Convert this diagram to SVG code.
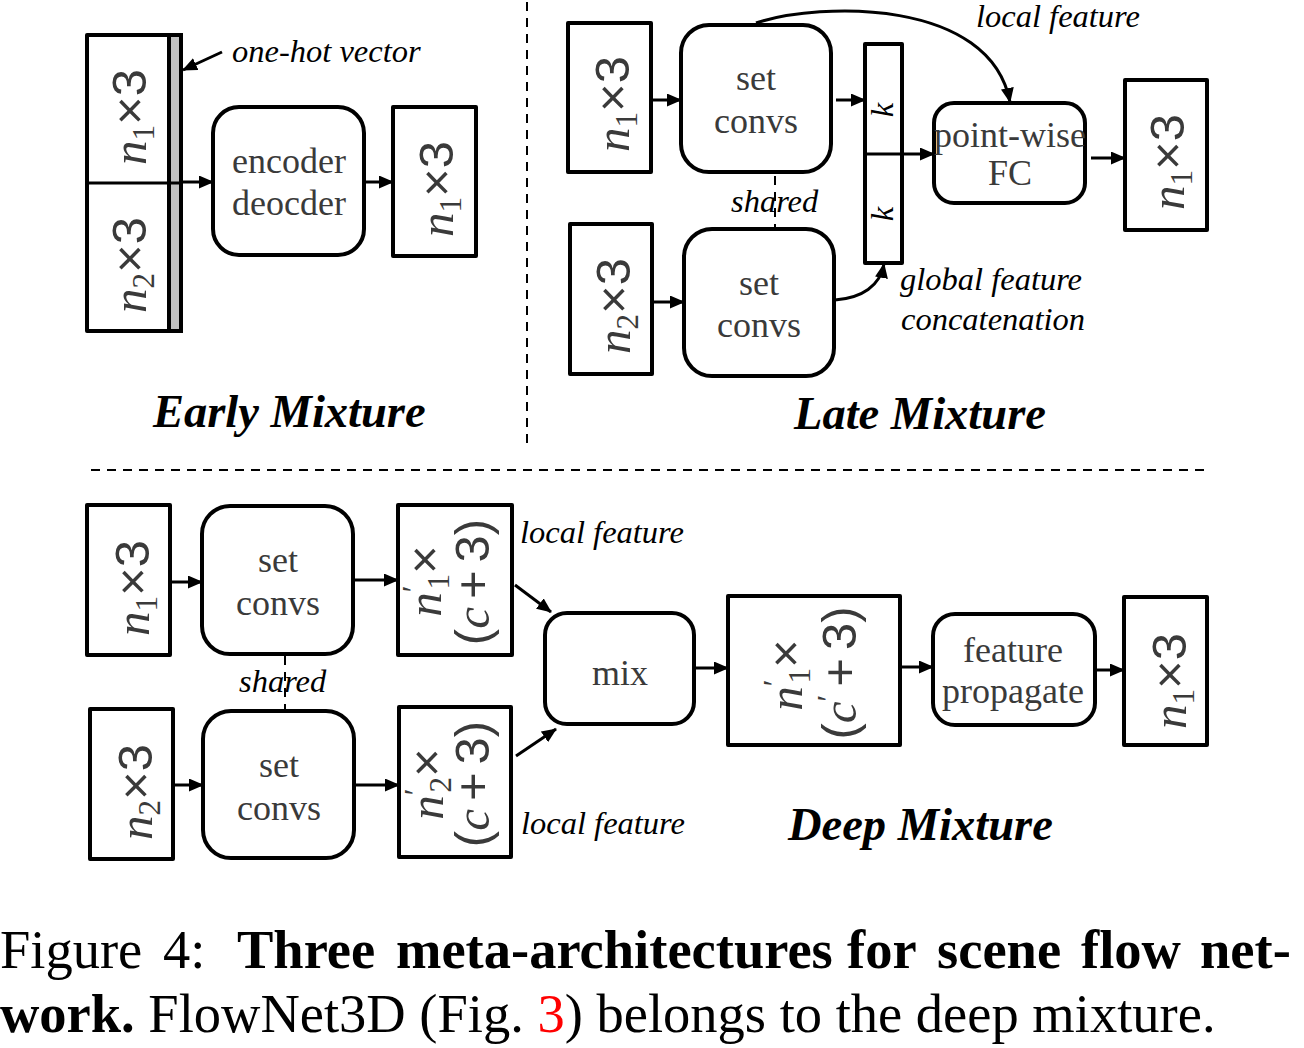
<svg xmlns="http://www.w3.org/2000/svg" width="1304" height="1048" viewBox="0 0 1304 1048">
<defs>
<marker id="ah" markerUnits="userSpaceOnUse" viewBox="0 0 15 13" markerWidth="15" markerHeight="13" refX="14" refY="6.5" orient="auto">
<path d="M0,0 L15,6.5 L0,13 z" fill="#000"/>
</marker>
<style>
.box{fill:#fff;stroke:#000;stroke-width:4;stroke-linejoin:round}
.ln{fill:none;stroke:#000;stroke-width:3}
.arr{fill:none;stroke:#000;stroke-width:3;marker-end:url(#ah)}
.dash{fill:none;stroke:#000;stroke-width:2;stroke-dasharray:9 7}
.bt{font-family:"Liberation Serif",serif;font-size:36px;fill:#3a3a3a;text-anchor:middle}
.lab{font-family:"Liberation Serif",serif;font-size:32.5px;font-style:italic;fill:#000}
.ttl{font-family:"Liberation Serif",serif;font-size:46.5px;font-style:italic;font-weight:bold;fill:#000}
.m{font-family:"Liberation Sans",sans-serif;font-size:49px;fill:#3a3a3a;text-anchor:middle}
.it{font-family:"Liberation Serif",serif;font-style:italic}
.sub{font-family:"Liberation Serif",serif;font-size:31px}
.cap{font-family:"Liberation Serif",serif;font-size:54.5px;fill:#000}
</style>
</defs>

<!-- separators -->
<line class="dash" x1="527" y1="2" x2="527" y2="443"/>
<line class="dash" x1="91" y1="470" x2="1204" y2="470"/>

<!-- Early Mixture -->
<g id="early-input">
<rect class="box" x="87" y="35" width="94" height="296"/>
<rect x="169" y="35" width="12" height="296" fill="#c0c0c0" stroke="#000" stroke-width="4"/>
<line class="ln" x1="87" y1="183" x2="181" y2="183" stroke-width="4"/>
<text class="m" transform="translate(146,117) rotate(-90)"><tspan class="it">n</tspan><tspan class="sub" dy="8">1</tspan><tspan dy="-8">×3</tspan></text>
<text class="m" transform="translate(146,265) rotate(-90)"><tspan class="it">n</tspan><tspan class="sub" dy="8">2</tspan><tspan dy="-8">×3</tspan></text>
</g>
<g id="early-encdec">
<rect class="box" x="213" y="107" width="151" height="148" rx="26"/>
<text class="bt" x="289" y="173">encoder</text>
<text class="bt" x="289" y="215">deocder</text>
</g>
<g id="early-output">
<rect class="box" x="393" y="107" width="83" height="149"/>
<text class="m" transform="translate(453,189) rotate(-90)"><tspan class="it">n</tspan><tspan class="sub" dy="8">1</tspan><tspan dy="-8">×3</tspan></text>
</g>
<text class="lab" x="232" y="62">one-hot vector</text>
<text class="ttl" x="153" y="427">Early Mixture</text>

<!-- Late Mixture -->
<g id="late-in1">
<rect class="box" x="568" y="23" width="83" height="149"/>
<text class="m" transform="translate(629,104) rotate(-90)"><tspan class="it">n</tspan><tspan class="sub" dy="8">1</tspan><tspan dy="-8">×3</tspan></text>
</g>
<g id="late-sc1">
<rect class="box" x="681" y="25" width="150" height="147" rx="28"/>
<text class="bt" x="756" y="90">set</text>
<text class="bt" x="756" y="133">convs</text>
</g>
<g id="late-in2">
<rect class="box" x="570" y="224" width="82" height="150"/>
<text class="m" transform="translate(630,306) rotate(-90)"><tspan class="it">n</tspan><tspan class="sub" dy="8">2</tspan><tspan dy="-8">×3</tspan></text>
</g>
<g id="late-sc2">
<rect class="box" x="684" y="229" width="150" height="147" rx="28"/>
<text class="bt" x="759" y="295">set</text>
<text class="bt" x="759" y="337">convs</text>
</g>
<g id="late-k">
<rect class="box" x="865" y="44" width="37" height="219"/>
<text class="lab" font-size="30" text-anchor="middle" transform="translate(893,110) rotate(-90)">k</text>
<text class="lab" font-size="30" text-anchor="middle" transform="translate(893,214) rotate(-90)">k</text>
</g>
<g id="late-fc">
<rect class="box" x="934" y="103" width="151" height="100" rx="20"/>
<text class="bt" x="1010" y="147" font-size="33">point-wise</text>
<text class="bt" x="1010" y="185" font-size="34">FC</text>
</g>
<g id="late-out">
<rect class="box" x="1125" y="80" width="82" height="150"/>
<text class="m" transform="translate(1184,162) rotate(-90)"><tspan class="it">n</tspan><tspan class="sub" dy="8">1</tspan><tspan dy="-8">×3</tspan></text>
</g>
<line class="dash" x1="775" y1="176" x2="775" y2="227" stroke-width="1.5"/>
<text class="lab" x="731" y="212">shared</text>
<text class="lab" x="976" y="27">local feature</text>
<text class="lab" x="900" y="290">global feature</text>
<text class="lab" x="901" y="330">concatenation</text>
<text class="ttl" x="794" y="429">Late Mixture</text>

<!-- Deep Mixture -->
<g id="deep-in1">
<rect class="box" x="87" y="505" width="83" height="150"/>
<text class="m" transform="translate(149,588) rotate(-90)"><tspan class="it">n</tspan><tspan class="sub" dy="8">1</tspan><tspan dy="-8">×3</tspan></text>
</g>
<g id="deep-sc1">
<rect class="box" x="202" y="506" width="151" height="148" rx="28"/>
<text class="bt" x="278" y="572">set</text>
<text class="bt" x="278" y="615">convs</text>
</g>
<g id="deep-f1">
<rect class="box" x="398" y="505" width="114" height="150"/>
<text class="m" transform="translate(441,581) rotate(-90)"><tspan class="it">n</tspan><tspan class="sub" dy="-17">′</tspan><tspan class="sub" dx="-4" dy="25">1</tspan><tspan dy="-8">×</tspan></text>
<text class="m" transform="translate(489,582) rotate(-90)">(<tspan class="it">c</tspan><tspan dx="8">+</tspan><tspan dx="8">3</tspan>)</text>
</g>
<g id="deep-in2">
<rect class="box" x="90" y="709" width="83" height="150"/>
<text class="m" transform="translate(152,792) rotate(-90)"><tspan class="it">n</tspan><tspan class="sub" dy="8">2</tspan><tspan dy="-8">×3</tspan></text>
</g>
<g id="deep-sc2">
<rect class="box" x="203" y="711" width="151" height="147" rx="28"/>
<text class="bt" x="279" y="777">set</text>
<text class="bt" x="279" y="820">convs</text>
</g>
<g id="deep-f2">
<rect class="box" x="399" y="707" width="112" height="150"/>
<text class="m" transform="translate(443,784) rotate(-90)"><tspan class="it">n</tspan><tspan class="sub" dy="-17">′</tspan><tspan class="sub" dx="-4" dy="25">2</tspan><tspan dy="-8">×</tspan></text>
<text class="m" transform="translate(489,784) rotate(-90)">(<tspan class="it">c</tspan><tspan dx="8">+</tspan><tspan dx="8">3</tspan>)</text>
</g>
<g id="deep-mix">
<rect class="box" x="545" y="613" width="149" height="111" rx="22"/>
<text class="bt" x="620" y="685">mix</text>
</g>
<g id="deep-feat">
<rect class="box" x="728" y="596" width="172" height="149"/>
<text class="m" transform="translate(802,675) rotate(-90)"><tspan class="it">n</tspan><tspan class="sub" dy="-17">′</tspan><tspan class="sub" dx="-4" dy="25">1</tspan><tspan dy="-8">×</tspan></text>
<text class="m" transform="translate(856,673) rotate(-90)">(<tspan class="it">c</tspan><tspan class="sub" dy="-17">′</tspan><tspan dx="8" dy="17">+</tspan><tspan dx="8">3</tspan>)</text>
</g>
<g id="deep-fp">
<rect class="box" x="933" y="614" width="162" height="111" rx="22"/>
<text class="bt" x="1013" y="662">feature</text>
<text class="bt" x="1013" y="703">propagate</text>
</g>
<g id="deep-out">
<rect class="box" x="1124" y="597" width="83" height="148"/>
<text class="m" transform="translate(1186,681) rotate(-90)"><tspan class="it">n</tspan><tspan class="sub" dy="8">1</tspan><tspan dy="-8">×3</tspan></text>
</g>
<line class="dash" x1="285" y1="656" x2="285" y2="709" stroke-width="1.5"/>
<text class="lab" x="239" y="692">shared</text>
<text class="lab" x="520" y="543">local feature</text>
<text class="lab" x="521" y="834">local feature</text>
<text class="ttl" x="788" y="840">Deep Mixture</text>

<!-- connectors -->
<g id="connectors">
<line class="arr" x1="183" y1="182" x2="213" y2="182"/>
<line class="arr" x1="365" y1="182" x2="393" y2="182"/>
<line class="arr" x1="222" y1="52" x2="183" y2="70"/>
<line class="arr" x1="652" y1="100" x2="681" y2="100"/>
<line class="arr" x1="653" y1="302" x2="684" y2="302"/>
<line class="arr" x1="836" y1="100" x2="865" y2="100"/>
<line class="arr" x1="865" y1="154" x2="934" y2="154"/>
<line class="arr" x1="1091" y1="158" x2="1125" y2="158"/>
<path class="arr" d="M756,23 C820,2 990,-2 1010,102"/>
<path class="arr" d="M835,300 C862,298 880,286 884,264"/>
<line class="arr" x1="171" y1="582" x2="202" y2="582"/>
<line class="arr" x1="354" y1="580" x2="398" y2="580"/>
<line class="arr" x1="174" y1="785" x2="203" y2="785"/>
<line class="arr" x1="355" y1="785" x2="399" y2="785"/>
<line class="arr" x1="515" y1="585" x2="551" y2="612"/>
<line class="arr" x1="516" y1="756" x2="556" y2="729"/>
<line class="arr" x1="695" y1="668" x2="728" y2="668"/>
<line class="arr" x1="901" y1="667" x2="933" y2="667"/>
<line class="arr" x1="1096" y1="670" x2="1124" y2="670"/>
</g>

<!-- caption -->
<text class="cap" y="968"><tspan x="0">Figure</tspan><tspan x="163">4:</tspan><tspan font-weight="bold"><tspan x="237">Three</tspan><tspan x="396">meta-architectures</tspan><tspan x="847">for</tspan><tspan x="937">scene</tspan><tspan x="1081">flow</tspan><tspan x="1200">net-</tspan></tspan></text>
<text class="cap" x="0" y="1032"><tspan font-weight="bold">work.</tspan> FlowNet3D (Fig. <tspan fill="#ff0000">3</tspan>) belongs to the deep mixture.</text>
</svg>
